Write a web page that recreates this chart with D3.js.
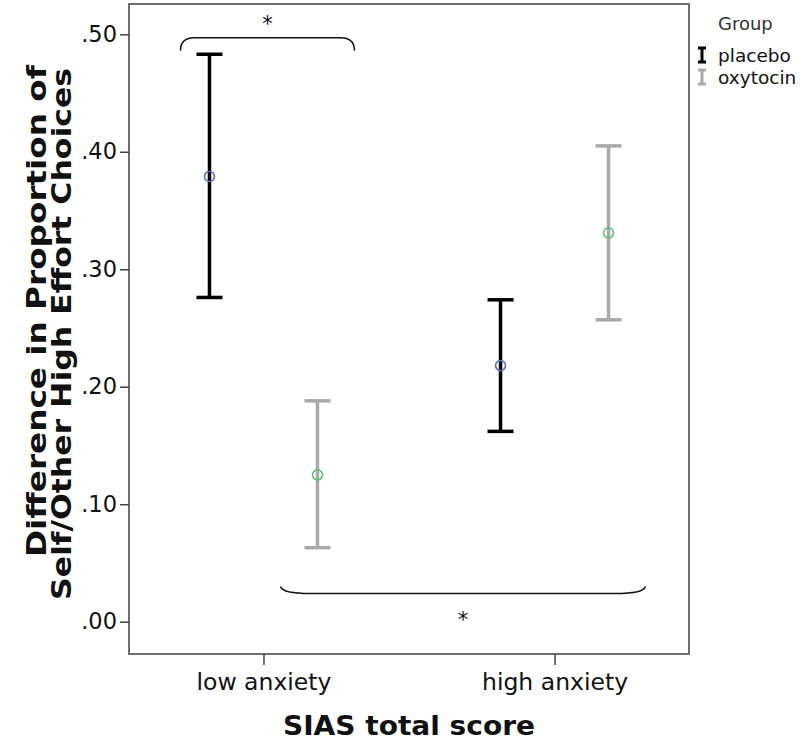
<!DOCTYPE html>
<html>
<head>
<meta charset="utf-8">
<script src="https://cdn.jsdelivr.net/npm/d3@7"></script>
<style>
  html, body { margin: 0; padding: 0; background: #fff; }
  svg { display: block; font-family: "DejaVu Sans", Verdana, sans-serif; }
</style>
</head>
<body>
<svg id="chart" width="800" height="740"></svg>
<script>
// ---- data ----
const categories = ["low anxiety", "high anxiety"];
const groups = ["placebo", "oxytocin"];
const placeboMean  = [0.379, 0.218];
const placeboLow   = [0.276, 0.162];
const placeboHigh  = [0.483, 0.274];
const oxytocinMean = [0.125, 0.331];
const oxytocinLow  = [0.063, 0.257];
const oxytocinHigh = [0.188, 0.405];
const yTicks = [0, 0.1, 0.2, 0.3, 0.4, 0.5];

const series = [
  { group: "placebo",  mean: placeboMean,  lo: placeboLow,  hi: placeboHigh,  color: "#000000", point: "#5b6fb5", offset: -54 },
  { group: "oxytocin", mean: oxytocinMean, lo: oxytocinLow, hi: oxytocinHigh, color: "#a9a9a9", point: "#5cbf78", offset: 54 }
];

const svg = d3.select("#chart");
const frame = { left: 129, right: 689, top: 4, bottom: 654 };

const x = d3.scalePoint().domain(categories).range([frame.left, frame.right]).padding(0.462);
const y = d3.scaleLinear().domain([0, 0.5]).range([621.7, 34.3]);

// frame
svg.append("rect")
  .attr("x", frame.left).attr("y", frame.top)
  .attr("width", frame.right - frame.left).attr("height", frame.bottom - frame.top)
  .attr("fill", "none").attr("stroke", "#6e6e6e").attr("stroke-width", 2);

// y axis
const yAxis = svg.append("g")
  .attr("transform", `translate(${frame.left},0)`)
  .call(d3.axisLeft(y).tickValues(yTicks).tickSize(9).tickPadding(3)
        .tickFormat(d => d3.format(".2f")(d).replace(/^0/, "")));
yAxis.select(".domain").remove();
yAxis.selectAll(".tick line").attr("stroke", "#444").attr("stroke-width", 1.5);
yAxis.selectAll(".tick text").attr("font-size", 22.5).attr("fill", "#111")
  .attr("font-family", "DejaVu Sans, sans-serif");

// x axis
const xAxis = svg.append("g")
  .attr("transform", `translate(0,${frame.bottom})`)
  .call(d3.axisBottom(x).tickSize(11).tickPadding(8));
xAxis.select(".domain").remove();
xAxis.selectAll(".tick line").attr("stroke", "#444").attr("stroke-width", 1.5);
xAxis.selectAll(".tick text").attr("font-size", 23.5).attr("fill", "#111")
  .attr("font-family", "DejaVu Sans, sans-serif");

// error bars
const capHalf = 13;
series.forEach(s => {
  const g = svg.append("g");
  categories.forEach((c, i) => {
    const cx = x(c) + s.offset;
    g.append("line").attr("x1", cx).attr("x2", cx)
      .attr("y1", y(s.lo[i])).attr("y2", y(s.hi[i]))
      .attr("stroke", s.color).attr("stroke-width", 3.5);
    [s.lo[i], s.hi[i]].forEach(v => {
      g.append("line").attr("x1", cx - capHalf).attr("x2", cx + capHalf)
        .attr("y1", y(v)).attr("y2", y(v))
        .attr("stroke", s.color).attr("stroke-width", 3.5);
    });
    g.append("circle").attr("cx", cx).attr("cy", y(s.mean[i])).attr("r", 5)
      .attr("fill", "none").attr("stroke", s.point).attr("stroke-width", 1.6);
  });
});

// significance brackets
const xp0 = x(categories[0]) + series[0].offset; // low placebo
const xo0 = x(categories[0]) + series[1].offset; // low oxytocin
const xo1 = x(categories[1]) + series[1].offset; // high oxytocin

// top bracket (low anxiety: placebo vs oxytocin)
{
  const x1 = xp0 - 29, x2 = xo0 + 37, yt = y(0.497), yb = y(0.486);
  const r = 14;
  svg.append("path")
    .attr("d", `M${x1},${yb} Q${x1},${yt} ${x1 + r},${yt} L${x2 - r},${yt} Q${x2},${yt} ${x2},${yb}`)
    .attr("fill", "none").attr("stroke", "#111").attr("stroke-width", 1.5);
  svg.append("text").attr("x", (x1 + x2) / 2).attr("y", y(0.497) - 7)
    .attr("text-anchor", "middle").attr("font-size", 21).attr("fill", "#111").text("*");
}
// bottom bracket (oxytocin: low vs high)
{
  const x1 = xo0 - 37, x2 = xo1 + 37, yt = y(0.030), yb = y(0.024);
  const r = 30;
  svg.append("path")
    .attr("d", `M${x1},${yt} Q${x1 + 2},${yb} ${x1 + r},${yb} L${x2 - r},${yb} Q${x2 - 2},${yb} ${x2},${yt}`)
    .attr("fill", "none").attr("stroke", "#111").attr("stroke-width", 1.5);
  svg.append("text").attr("x", (x1 + x2) / 2).attr("y", y(0.024) + 33)
    .attr("text-anchor", "middle").attr("font-size", 21).attr("fill", "#111").text("*");
}

// axis titles
svg.append("text").attr("x", 409).attr("y", 735)
  .attr("text-anchor", "middle").attr("font-size", 26).attr("font-weight", "bold")
  .attr("textLength", 252).attr("lengthAdjust", "spacingAndGlyphs")
  .attr("fill", "#111").text("SIAS total score");

svg.append("text").attr("transform", "translate(46,311) rotate(-90)")
  .attr("text-anchor", "middle").attr("font-size", 26).attr("font-weight", "bold")
  .attr("textLength", 492).attr("lengthAdjust", "spacingAndGlyphs")
  .attr("fill", "#111").text("Difference in Proportion of");
svg.append("text").attr("transform", "translate(71,334) rotate(-90)")
  .attr("text-anchor", "middle").attr("font-size", 26).attr("font-weight", "bold")
  .attr("textLength", 532).attr("lengthAdjust", "spacingAndGlyphs")
  .attr("fill", "#111").text("Self/Other High Effort Choices");

// legend
const legend = svg.append("g");
legend.append("text").attr("x", 718).attr("y", 30).attr("font-size", 18)
  .attr("fill", "#333").text("Group");
series.forEach((s, i) => {
  const ly = 55 + i * 22;
  const lx = 702;
  legend.append("path")
    .attr("d", `M${lx - 4},${ly - 7} L${lx + 4},${ly - 7} M${lx},${ly - 7} L${lx},${ly + 7} M${lx - 4},${ly + 7} L${lx + 4},${ly + 7}`)
    .attr("stroke", s.color).attr("stroke-width", 3).attr("fill", "none");
  legend.append("text").attr("x", 718).attr("y", ly + 7).attr("font-size", 18.5)
    .attr("fill", "#111").text(s.group);
});
</script>
</body>
</html>
